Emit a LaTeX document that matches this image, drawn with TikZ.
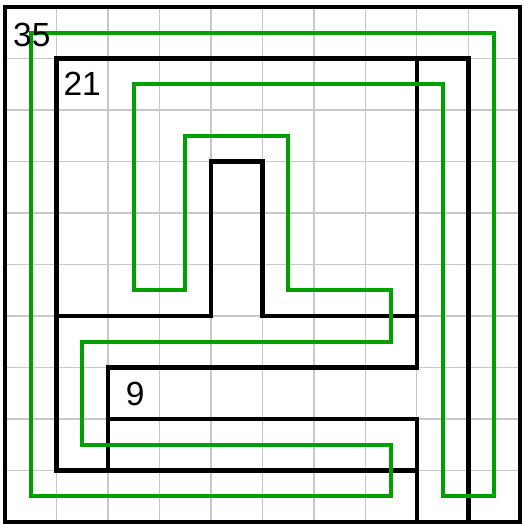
\documentclass[tikz,border=0pt]{standalone}
\usepackage{fontspec}
\setmainfont{Liberation Sans}
\definecolor{pathgreen}{RGB}{0,160,0}
\definecolor{gridgray}{RGB}{200,200,200}
\begin{document}
\begin{tikzpicture}[x=1cm,y=-1cm,
  gridline/.style={draw=gridgray, line width=0.6pt},
  wall/.style={draw=black, line width=2.3pt, line join=miter, line cap=rect},
  route/.style={draw=pathgreen, line width=2.3pt, line join=miter},
  lbl/.style={font=\fontsize{18.5}{20}\selectfont, text=black, inner sep=0pt}]
\useasboundingbox (-0.097,-0.136) rectangle (10.04,10.04);
% grid
\draw[gridline] (0,0) grid (10,10);
% walls
\draw[wall] (0,0) rectangle (10,10);
\draw[wall] (9,10) -- (9,1) -- (1,1) -- (1,9) -- (8,9);
\draw[wall] (8,10) -- (8,8) -- (2,8);
\draw[wall] (2,9) -- (2,7) -- (8,7) -- (8,1);
\draw[wall] (1,6) -- (4,6) -- (4,3) -- (5,3) -- (5,6) -- (8,6);
% green route
\draw[route] (0.5,0.5) -- (9.5,0.5) -- (9.5,9.5) -- (8.5,9.5) -- (8.5,1.5)
  -- (2.5,1.5) -- (2.5,5.5) -- (3.5,5.5) -- (3.5,2.5) -- (5.5,2.5)
  -- (5.5,5.5) -- (7.5,5.5) -- (7.5,6.5) -- (1.5,6.5) -- (1.5,8.5)
  -- (7.5,8.5) -- (7.5,9.5) -- (0.5,9.5) -- cycle;
% labels
\node[lbl] (n35) at (0.52,0.55) {35};
\node[lbl] (n21) at (1.5,1.5) {21};
\node[lbl] (n9) at (2.53,7.52) {9};
\end{tikzpicture}
\end{document}
